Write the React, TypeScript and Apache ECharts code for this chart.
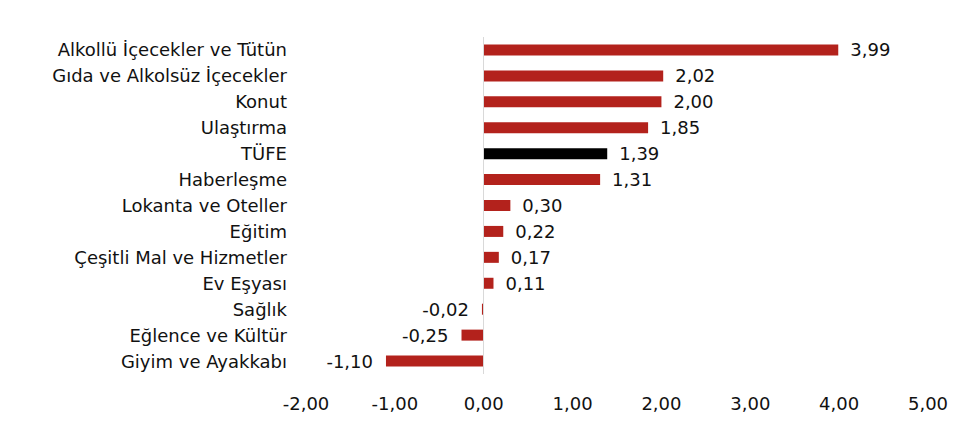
import React, { useEffect, useRef } from "react";
import * as echarts from "echarts";

const categories = [
  "Alkollü İçecekler ve Tütün",
  "Gıda ve Alkolsüz İçecekler",
  "Konut",
  "Ulaştırma",
  "TÜFE",
  "Haberleşme",
  "Lokanta ve Oteller",
  "Eğitim",
  "Çeşitli Mal ve Hizmetler",
  "Ev Eşyası",
  "Sağlık",
  "Eğlence ve Kültür",
  "Giyim ve Ayakkabı",
];
const values = [3.99, 2.02, 2.0, 1.85, 1.39, 1.31, 0.3, 0.22, 0.17, 0.11, -0.02, -0.25, -1.1];
const highlight = "TÜFE";

const fmt = (v: number) => v.toFixed(2).replace(".", ",");

export default function App() {
  const ref = useRef<HTMLDivElement>(null);
  useEffect(() => {
    document.body.style.margin = "0";
    const chart = echarts.init(ref.current!, null, { renderer: "svg" });
    const font = "'DejaVu Sans', sans-serif";
    const fs = 18;
    chart.setOption({
      animation: false,
      grid: { left: 306, right: 32, top: 37, bottom: 59 },
      xAxis: {
        type: "value",
        min: -2,
        max: 5,
        interval: 1,
        axisLine: { show: false },
        axisTick: { show: false },
        splitLine: { show: false },
        axisLabel: {
          color: "#111",
          fontSize: fs,
          fontFamily: font,
          margin: 20,
          formatter: (v: number) => fmt(v),
        },
      },
      yAxis: {
        type: "category",
        data: categories,
        inverse: true,
        axisLine: { show: false, onZero: false },
        axisTick: { show: false },
        axisLabel: { color: "#111", fontSize: fs, fontFamily: font, margin: 19 },
      },
      series: [
        {
          type: "bar",
          barWidth: 11,
          data: values.map((v, i) => ({
            value: v,
            itemStyle: { color: categories[i] === highlight ? "#000000" : "#b3221c" },
            label: {
              show: true,
              position: v < 0 ? "left" : "right",
              distance: v < 0 ? 13 : 12,
              formatter: fmt(v),
              color: "#111",
              fontSize: fs,
              fontFamily: font,
            },
          })),
          markLine: {
            silent: true,
            symbol: "none",
            label: { show: false },
            lineStyle: { color: "#d9d9d9", type: "solid", width: 1 },
            data: [{ xAxis: 0 }],
          },
        },
      ],
    });
    return () => chart.dispose();
  }, []);
  return <div ref={ref} style={{ width: 960, height: 433 }} />;
}
